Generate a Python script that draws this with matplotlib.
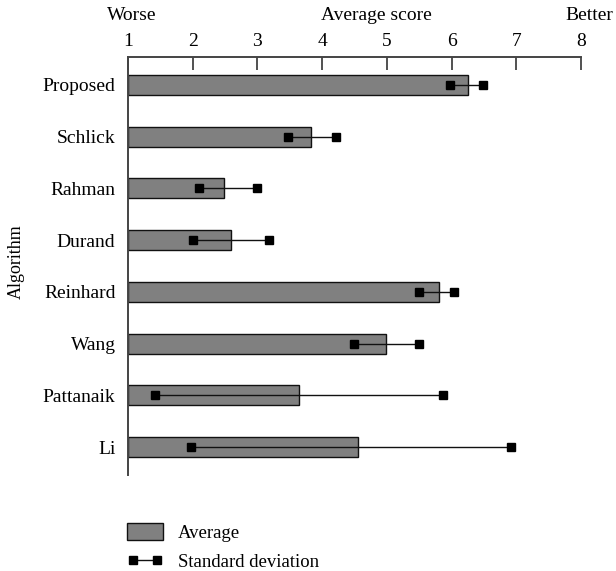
import matplotlib
matplotlib.use('Agg')
import matplotlib.pyplot as plt

plt.rcParams['font.family'] = ['Liberation Serif', 'DejaVu Serif']

algorithms = ['Proposed', 'Schlick', 'Rahman', 'Durand', 'Reinhard', 'Wang', 'Pattanaik', 'Li']
average = [6.25, 3.83, 2.48, 2.59, 5.81, 4.99, 3.65, 4.55]
std_low = [5.98, 3.47, 2.09, 2.00, 5.49, 4.50, 1.41, 1.97]
std_high = [6.48, 4.22, 3.00, 3.18, 6.04, 5.49, 5.87, 6.92]
score_ticks = [1, 2, 3, 4, 5, 6, 7, 8]

fig = plt.figure(figsize=(6.16, 5.71), dpi=100)
ax = fig.add_axes([128/616, 1 - 475/571, 453/616, 418/571])

ypos = list(range(len(algorithms)))
base = score_ticks[0]
bars = ax.barh(ypos, [a - base for a in average], left=base, height=0.39,
               color='#808080', edgecolor='#111111', linewidth=1.0, label='Average')

std_line = None
for i, y in enumerate(ypos):
    ln, = ax.plot([std_low[i], std_high[i]], [y, y], color='#111111', lw=1.0,
                  marker='s', ms=6, mfc='black', mec='black')
    if std_line is None:
        std_line = ln

ax.set_xlim(1, 8)
ax.set_ylim(len(algorithms) - 0.46, -0.54)
ax.set_xticks(score_ticks)
ax.set_yticks(ypos)
ax.set_yticklabels(algorithms)

ax.xaxis.tick_top()
ax.tick_params(axis='x', direction='in', length=9, width=1.2, color='#333333',
               labelsize=14, pad=5)
ax.tick_params(axis='y', length=0, labelsize=14, pad=9)

for side in ['right', 'bottom']:
    ax.spines[side].set_visible(False)
for side in ['top', 'left']:
    ax.spines[side].set_color('#444444')
    ax.spines[side].set_linewidth(1.4)

ax.set_ylabel('Algorithm', fontsize=13)
ax.yaxis.set_label_coords(-(128 - 25) / 453, 0.51)

fig.text(107/616, 1 - 16/571, 'Worse', fontsize=14, ha='left', va='center')
fig.text(376/616, 1 - 16/571, 'Average score', fontsize=14, ha='center', va='center')
fig.text(613/616, 1 - 16/571, 'Better', fontsize=14, ha='right', va='center')

ax.legend([bars, std_line], ['Average', 'Standard deviation'],
          loc='upper left', bbox_to_anchor=(127/616, 1 - 523/571),
          bbox_transform=fig.transFigure, frameon=False, fontsize=13.5,
          numpoints=2, handlelength=1.9, handleheight=1.0, handletextpad=0.8,
          labelspacing=0.55, borderpad=0, borderaxespad=0)

fig.savefig('out.png', dpi=100)
